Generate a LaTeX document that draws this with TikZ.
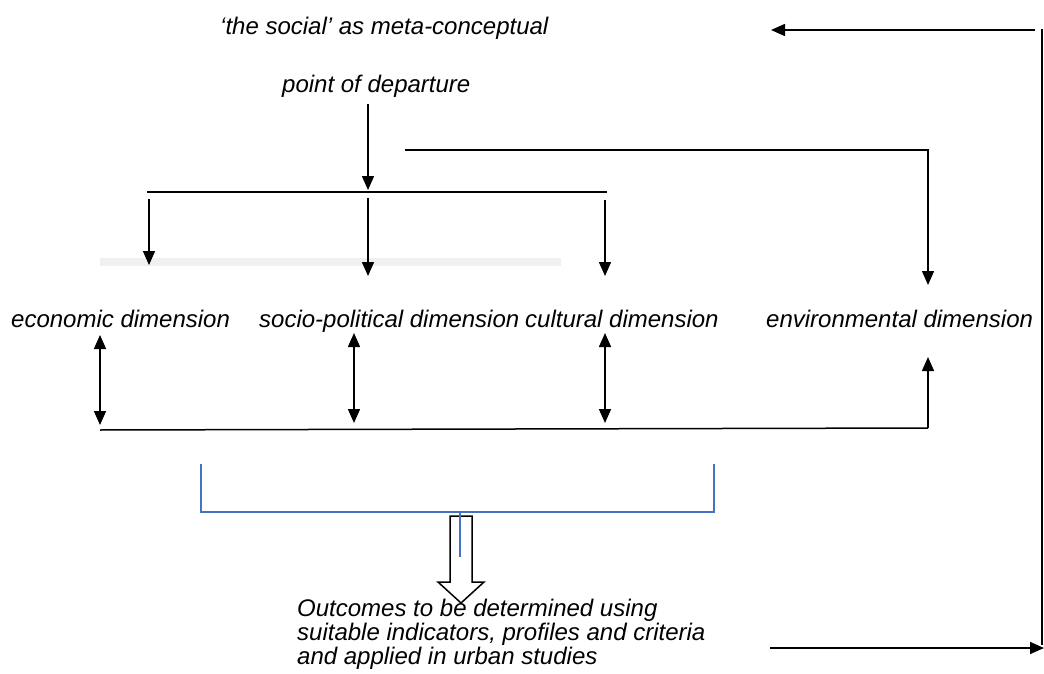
\documentclass[tikz,border=0pt]{standalone}
\usepackage{fontspec}
\setmainfont{Liberation Sans}
\usetikzlibrary{arrows.meta}
\begin{document}
\begin{tikzpicture}[x=1pt,y=-1pt,
  lbl/.style={font=\fontsize{24}{24}\selectfont\itshape, inner sep=0pt, anchor=base west},
  ln/.style={line width=1.5pt, black},
  arr/.style={ln, -{Triangle[length=14pt,width=12pt]}},
  darr/.style={ln, {Triangle[length=14pt,width=12pt]}-{Triangle[length=14pt,width=12pt]}},
  bl/.style={line width=1.5pt, color={rgb,255:red,68;green,114;blue,196}}]
\useasboundingbox (0,0) rectangle (1044,674);
% texts
\node[lbl] (t1) at (220,35) {‘the social’ as meta-conceptual};
\node[lbl] (t2) at (282,93) {point of departure};
\node[lbl] (econ) at (11,327) {economic dimension};
\node[lbl] (socio) at (259,327) {socio-political dimension};
\node[lbl] (cult) at (525,327) {cultural dimension};
\node[lbl] (env) at (766,327) {environmental dimension};
\node[lbl, anchor=north west, align=left] (out) at (297,599) {Outcomes to be determined using\\suitable indicators, profiles and criteria\\and applied in urban studies};
% coordinates
\coordinate (a0) at (368,104);
\coordinate (a1) at (368,190);
\coordinate (hl) at (147,192);
\coordinate (hr) at (607,192);
\coordinate (e0) at (405,150);
\coordinate (e1) at (928,150);
\coordinate (e2) at (928,285);
% gray bar
\fill[gray!12] (100,258) rectangle (561,266);
% top arrows
\draw[arr] (a0) -- (a1);
\draw[ln] (hl) -- (hr);
\draw[arr] (149,199) -- (149,265);
\draw[arr] (368,198) -- (368,276);
\draw[arr] (605,200) -- (605,276);
\draw[arr] (e0) -- (e1) -- (e2);
% double arrows
\draw[darr] (100,335) -- (100,425);
\draw[darr] (354,333) -- (354,423);
\draw[darr] (605,333) -- (605,423);
% bottom line
\coordinate (b0) at (100,430);
\coordinate (b1) at (928,428);
\draw[ln] (b0) -- (b1);
\draw[arr] (b1) -- (928,357);
% blue bracket
\coordinate (bq1) at (201,464);
\coordinate (bq2) at (714,464);
\draw[bl] (bq1) -- (201,512) -- (714,512) -- (bq2);
% hollow arrow
\draw[line width=1.5pt, fill=white] (450,516) -- (472,516) -- (472,582) -- (484,582) -- (461,603) -- (438,582) -- (450,582) -- cycle;
\draw[bl] (460,512) -- (460,557);
% right frame
\coordinate (r0) at (1035,30);
\coordinate (r1) at (771,30);
\coordinate (v0) at (1042,29);
\coordinate (v1) at (1042,645);
\draw[arr] (r0) -- (r1);
\draw[ln] (v0) -- (v1);
\draw[arr] (770,648) -- (1044,648);
\end{tikzpicture}
\end{document}
